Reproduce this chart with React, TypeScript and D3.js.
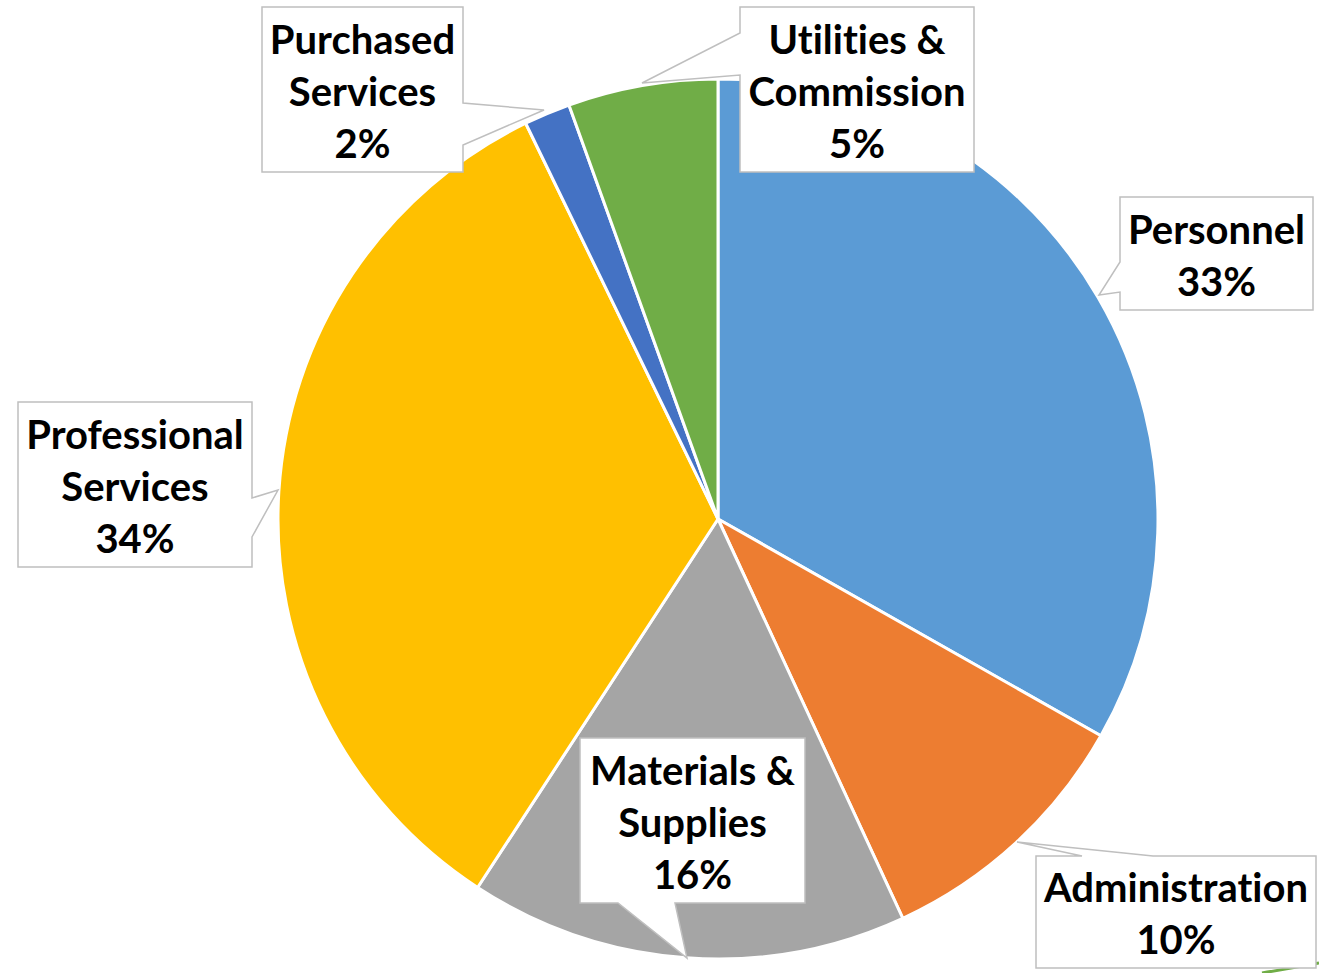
import React from "react";
import * as d3 from "d3";

const categories = [
  "Personnel",
  "Administration",
  "Materials & Supplies",
  "Professional Services",
  "Purchased Services",
  "Utilities & Commission",
];
const values = [33.2, 9.9, 16.1, 33.6, 1.7, 5.5];
const labelLines = [
  ["Personnel", "33%"],
  ["Administration", "10%"],
  ["Materials &", "Supplies", "16%"],
  ["Professional", "Services", "34%"],
  ["Purchased", "Services", "2%"],
  ["Utilities &", "Commission", "5%"],
];
const colors = ["#5B9BD5", "#ED7D31", "#A5A5A5", "#FFC000", "#4472C4", "#70AD47"];

// callout layout: box, side of pointer, pointer base range along side, pointer tip
type Callout = {
  x: number; y: number; w: number; h: number;
  side: "left" | "right" | "top" | "bottom";
  a: number; b: number; tx: number; ty: number;
};
const callouts: Callout[] = [
  { x: 1120, y: 197, w: 193, h: 113, side: "left", a: 262, b: 292, tx: 1099, ty: 295 },
  { x: 1036, y: 856, w: 280, h: 112, side: "top", a: 1082, b: 1153, tx: 1017, ty: 842 },
  { x: 580, y: 738, w: 225, h: 165, side: "bottom", a: 618, b: 675, tx: 687, ty: 958 },
  { x: 18, y: 402, w: 234, h: 165, side: "right", a: 498, b: 537, tx: 278, ty: 490 },
  { x: 262, y: 7, w: 201, h: 165, side: "right", a: 103, b: 145, tx: 544, ty: 110 },
  { x: 740, y: 7, w: 234, h: 165, side: "left", a: 33, b: 75, tx: 642, ty: 83 },
];

function calloutPath(c: Callout): string {
  const { x, y, w, h, side, a, b, tx, ty } = c;
  const x2 = x + w, y2 = y + h;
  const p = d3.path();
  p.moveTo(x, y);
  if (side === "top") { p.lineTo(a, y); p.lineTo(tx, ty); p.lineTo(b, y); }
  p.lineTo(x2, y);
  if (side === "right") { p.lineTo(x2, a); p.lineTo(tx, ty); p.lineTo(x2, b); }
  p.lineTo(x2, y2);
  if (side === "bottom") { p.lineTo(b, y2); p.lineTo(tx, ty); p.lineTo(a, y2); }
  p.lineTo(x, y2);
  if (side === "left") { p.lineTo(x, b); p.lineTo(tx, ty); p.lineTo(x, a); }
  p.closePath();
  return p.toString();
}

const W = 1319, H = 973;
const cx = 718, cy = 519, R = 440;
const FONT = 40;
const LINE = 52;

export default function App() {
  const pie = d3.pie<number>().sort(null).value((d) => d)(values);
  const arc = d3.arc<d3.PieArcDatum<number>>().innerRadius(0).outerRadius(R);
  return (
    <svg
      width={W}
      height={H}
      style={{ position: "absolute", left: 0, top: 0, background: "#fff", fontVariantLigatures: "none", fontFeatureSettings: '"liga" 0, "clig" 0' }}
      fontFamily="Lato, 'Open Sans', sans-serif"
    >
      <g transform={`translate(${cx},${cy})`}>
        {pie.map((d, i) => (
          <path key={categories[i]} d={arc(d) || ""} fill={colors[i]} stroke="#fff" strokeWidth={3} strokeLinejoin="round" />
        ))}
      </g>
      <path d="M1262,973 Q1292,968 1319,963" fill="none" stroke="#70AD47" strokeWidth={3} />
      {callouts.map((c, i) => {
        const lines = labelLines[i];
        const mx = c.x + c.w / 2;
        const my = c.y + c.h / 2 + 16;
        return (
          <g key={categories[i]}>
            <path d={calloutPath(c)} fill="#fff" stroke="#BFBFBF" strokeWidth={1.5} />
            {lines.map((t, j) => (
              <text
                key={j}
                x={mx}
                y={my + (j - (lines.length - 1) / 2) * LINE}
                textAnchor="middle"
                fontSize={FONT}
                fontWeight="bold"
                fill="#000"
              >
                {t}
              </text>
            ))}
          </g>
        );
      })}
    </svg>
  );
}
